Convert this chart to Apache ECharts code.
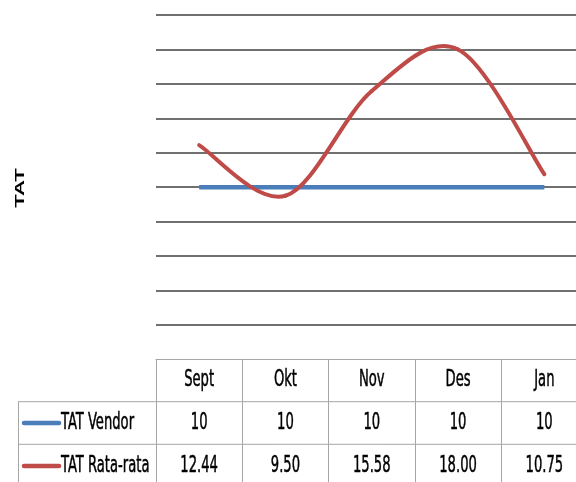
<!DOCTYPE html>
<html>
<head>
<meta charset="utf-8">
<script src="https://cdn.jsdelivr.net/npm/echarts@6/dist/echarts.min.js"></script>
<style>
html,body{margin:0;padding:0;background:#fff;}
#chart{width:576px;height:482px;}
</style>
</head>
<body>
<div id="chart"></div>
<script>
const categories = ['Sept', 'Okt', 'Nov', 'Des', 'Jan'];
const seriesNames = ['TAT Vendor', 'TAT Rata-rata'];
const tatVendor = [10, 10, 10, 10, 10];
const tatRataRata = [12.44, 9.50, 15.58, 18.00, 10.75];
const vendorLabels = ['10', '10', '10', '10', '10'];
const rataLabels = ['12.44', '9.50', '15.58', '18.00', '10.75'];
const yAxisTitle = 'TAT';

const colors = ['#4A7EBB', '#BE4B48'];
const tableFont = "'Liberation Sans Narrow', 'DejaVu Sans Condensed', 'Liberation Sans', sans-serif";
const border = '#a6a6a6';

const chart = echarts.init(document.getElementById('chart'), null, {renderer: 'canvas'});

const gridLeft = 156, gridTop = 15, gridW = 431.5, gridH = 344.3;
const gridBottom = gridTop + gridH;

const splitColors = ['rgba(0,0,0,0)'];
for (let i = 0; i < 10; i++) splitColors.push('#404040');

// Smoothed (Catmull-Rom style, like spreadsheet smoothing) segment i -> i+1
function renderSmoothSegment(params, api) {
  const i = params.dataIndex;
  const n = tatRataRata.length;
  if (i >= n - 1) return null;
  const P = function (j) {
    j = Math.max(0, Math.min(n - 1, j));
    return api.coord([j, tatRataRata[j]]);
  };
  const p0 = P(i - 1), p1 = P(i), p2 = P(i + 1), p3 = P(i + 2);
  const k = 1 / 6;
  return {
    type: 'bezierCurve',
    shape: {
      x1: p1[0], y1: p1[1],
      cpx1: p1[0] + (p2[0] - p0[0]) * k, cpy1: p1[1] + (p2[1] - p0[1]) * k,
      cpx2: p2[0] - (p3[0] - p1[0]) * k, cpy2: p2[1] - (p3[1] - p1[1]) * k,
      x2: p2[0], y2: p2[1]
    },
    style: {stroke: colors[1], lineWidth: 4, fill: null, lineCap: 'round'}
  };
}

chart.setOption({
  animation: false,
  backgroundColor: '#ffffff',
  grid: {left: gridLeft, top: gridTop, width: gridW, height: gridH, outerBoundsMode: 'none', containLabel: false},
  xAxis: {
    type: 'category',
    data: categories,
    boundaryGap: true,
    axisLine: {show: true, lineStyle: {color: border, width: 1}},
    axisTick: {show: true, length: 123, lineStyle: {color: border, width: 1}},
    axisLabel: {show: false}
  },
  yAxis: {
    type: 'value',
    min: 0, max: 20, interval: 2,
    axisLine: {show: false},
    axisTick: {show: false},
    axisLabel: {show: false},
    splitLine: {show: true, lineStyle: {color: splitColors, width: 1.6}}
  },
  series: [
    {
      name: seriesNames[0], type: 'line', data: tatVendor, symbol: 'none',
      lineStyle: {color: colors[0], width: 4.5, cap: 'butt'}, z: 3
    },
    {
      name: seriesNames[1], type: 'custom', z: 4, clip: false,
      data: tatRataRata.map(function (v, i) { return [i, v]; }),
      encode: {x: 0, y: 1},
      renderItem: renderSmoothSegment
    }
  ]
});

// Data table below the plot
const row1Top = 401.7, row2Top = 444.3, tableBottom = 482;
const headerY = (gridBottom + row1Top) / 2;
const row1Y = (row1Top + row2Top) / 2;
const row2Y = 466;
const sx = 0.86, sy = 1.35;
const g = [];
function txt(x, y, s, align) {
  g.push({
    type: 'text', x: x, y: y, scaleX: sx, scaleY: sy, silent: true,
    style: {text: s, fill: '#000', stroke: '#000', lineWidth: 0.35, font: '17px ' + tableFont, align: align || 'center', verticalAlign: 'middle'}
  });
}
// horizontal borders
[row1Top, row2Top].forEach(function (yy) {
  g.push({type: 'line', silent: true, shape: {x1: 18, y1: yy, x2: 576, y2: yy}, style: {stroke: border, lineWidth: 1}});
});
g.push({type: 'line', silent: true, shape: {x1: 18.5, y1: row1Top, x2: 18.5, y2: tableBottom}, style: {stroke: border, lineWidth: 1}});

categories.forEach(function (c, i) {
  const x = chart.convertToPixel({xAxisIndex: 0}, i);
  txt(x, headerY, c);
  txt(x, row1Y, vendorLabels[i]);
  txt(x, row2Y, rataLabels[i]);
});
// legend keys
[[row1Y, 0], [row2Y, 1]].forEach(function (r) {
  g.push({type: 'line', silent: true, shape: {x1: 24, y1: r[0], x2: 59, y2: r[0]},
    style: {stroke: colors[r[1]], lineWidth: 4.5, lineCap: 'round'}});
  txt(61, r[0], seriesNames[r[1]], 'left');
});
// y-axis title
g.push({
  type: 'text', x: 20, y: 188, rotation: Math.PI / 2, scaleX: 1.7, silent: true,
  style: {text: yAxisTitle, fill: '#000', font: 'bold 13px "Liberation Sans", Arial, sans-serif', align: 'center', verticalAlign: 'middle'}
});
chart.setOption({graphic: g});
</script>
</body>
</html>
